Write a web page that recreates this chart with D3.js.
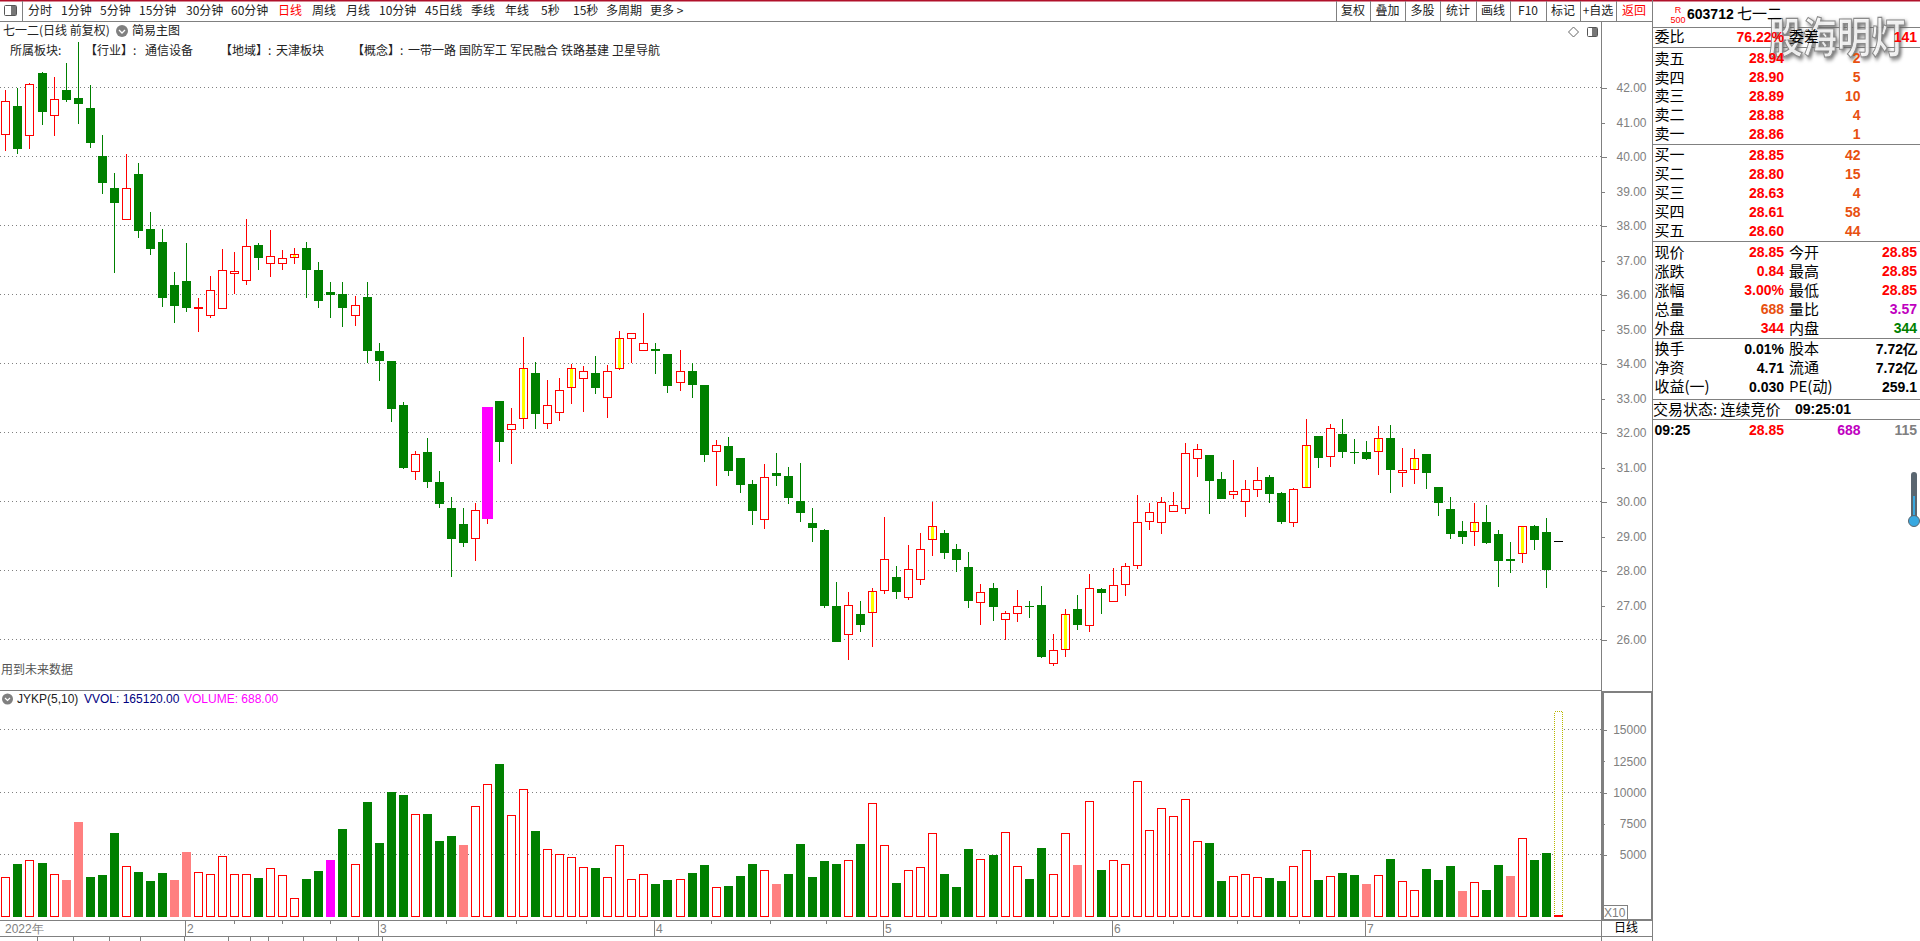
<!DOCTYPE html>
<html>
<head>
<meta charset="utf-8">
<script src="https://cdn.jsdelivr.net/npm/d3@7"></script>
<style>
    html, body { margin: 0; padding: 0; background: #fff; overflow: hidden; }
    text { font-family: "Noto Sans CJK SC", sans-serif; }
    .num { font-family: "Liberation Sans", sans-serif; }
    .bold { font-family: "Liberation Sans", sans-serif; font-weight: bold; font-size: 14px; }
</style>
</head>
<body>
<div id="chart"></div>
<script>
// daily candles, one value per trading day, last one is today's call auction
const opens = [40.61,41.46,40.58,42.42,41.16,41.92,41.69,41.40,40.01,39.08,38.16,39.49,37.89,37.52,36.27,36.39,35.58,35.38,35.58,36.60,36.40,37.43,36.89,36.89,37.06,37.34,36.71,36.07,36.01,35.38,
    35.92,34.36,34.07,32.79,30.86,31.43,30.56,29.81,29.34,28.92,29.49,32.91,32.08,32.39,33.72,32.25,32.57,33.29,33.56,33.72,33.00,33.85,34.72,34.37,34.42,34.27,33.44,33.78,33.37,31.44,
    31.60,31.26,30.50,29.47,30.82,30.73,30.01,29.37,29.17,26.97,26.14,26.73,26.77,27.41,27.81,27.21,27.73,28.89,29.08,28.62,28.10,27.06,27.49,26.57,26.74,26.97,27.00,25.29,25.70,26.88,
    26.40,27.46,27.09,27.58,28.14,29.41,29.38,29.70,29.79,31.24,31.34,30.65,30.19,29.99,30.34,30.71,30.24,29.38,30.40,31.89,31.29,31.95,31.43,31.43,31.44,31.84,30.83,30.92,31.37,30.42,
    29.78,29.14,29.12,29.40,29.05,28.33,28.48,29.29,29.11,28.85];
const closes = [41.62,40.22,42.09,41.29,41.68,41.63,41.52,40.39,39.23,38.65,39.10,37.84,37.31,35.89,35.66,35.60,35.65,36.12,36.70,36.67,37.42,37.05,37.13,37.07,37.17,36.71,35.81,35.98,35.60,35.71,
    34.36,34.07,32.68,30.96,31.39,30.56,29.92,28.91,28.79,29.74,32.73,31.72,32.26,33.88,32.53,32.81,33.22,33.88,33.77,33.29,33.77,34.75,34.87,34.58,34.36,33.34,33.77,33.37,31.34,31.65,
    30.88,30.47,29.72,30.72,30.73,30.10,29.66,29.23,26.97,25.92,27.01,26.42,27.42,28.32,27.37,28.03,28.61,29.28,28.50,28.30,27.11,27.39,26.94,26.78,26.96,26.94,25.49,25.71,26.75,26.42,
    27.48,27.34,27.59,28.14,29.42,29.71,30.00,29.91,31.42,31.51,30.59,30.07,30.29,30.35,30.61,30.21,29.40,30.35,31.65,31.26,32.12,31.43,31.40,31.23,31.83,30.91,30.90,31.25,30.82,29.95,
    29.05,28.97,29.42,28.79,28.27,28.27,29.28,28.88,28.01,28.85];
const highs = [41.92,42.00,42.14,42.44,42.29,42.70,43.31,42.07,40.62,39.52,40.07,39.81,38.39,37.89,36.65,37.49,35.89,36.53,37.31,37.23,38.18,37.49,37.86,37.29,37.34,37.52,36.94,36.36,36.36,35.95,
    36.35,34.59,34.07,32.88,31.46,31.84,30.88,30.13,29.81,29.95,32.73,32.91,32.71,34.76,34.04,33.52,33.58,33.98,33.92,34.21,33.95,34.94,34.87,35.46,34.59,34.27,34.39,34.01,33.37,31.78,
    31.86,31.26,30.62,31.08,31.40,31.00,31.11,29.81,29.20,27.66,27.37,27.11,27.49,29.55,28.13,28.73,29.08,29.98,29.17,28.76,28.53,27.60,27.63,26.82,27.43,27.11,27.55,26.15,26.88,27.29,
    27.89,27.49,28.07,28.21,30.18,29.95,30.13,30.27,31.69,31.66,31.34,30.85,31.20,30.62,31.00,30.76,30.27,30.39,32.39,31.89,32.24,32.39,31.81,31.75,32.18,32.21,31.55,31.52,31.37,30.42,
    30.13,29.43,29.95,29.89,29.17,28.82,29.28,29.31,29.52,28.85];
const lows = [40.15,40.07,40.21,40.91,40.59,41.58,40.94,40.24,38.91,36.62,38.16,37.63,37.14,35.63,35.17,35.49,34.91,35.31,35.58,36.01,36.27,36.71,36.50,36.71,36.88,35.89,35.60,35.31,35.05,35.08,
    34.01,33.49,32.30,30.93,30.62,30.39,29.81,27.81,28.68,28.27,29.34,31.14,31.08,32.10,32.10,32.10,32.33,32.82,32.59,33.11,32.42,33.81,34.01,34.37,33.69,33.14,33.20,33.00,31.14,30.44,
    30.73,30.24,29.31,29.20,30.44,29.92,29.40,28.82,26.91,25.92,25.40,26.21,25.78,27.31,27.17,27.14,27.57,28.42,28.33,27.95,26.91,26.42,26.53,25.98,26.50,26.62,25.46,25.23,25.49,26.27,
    26.21,26.73,27.09,27.26,28.04,29.17,29.05,29.70,29.63,30.71,29.63,30.07,30.07,29.55,30.13,29.95,29.34,29.26,30.40,30.97,31.00,31.26,31.08,31.20,30.76,30.24,30.42,30.50,30.36,29.57,
    28.91,28.76,28.71,28.76,27.52,27.92,28.21,28.59,27.49,28.85];

// volume per day, on the X10 axis, so today's 688.00 reads as 69
const volumes = [3238,4224,4597,4304,3477,2944,7584,3184,3344,6704,4117,3584,2864,3504,2944,5184,3637,3477,4917,3477,3477,3104,3957,3397,1557,3024,3664,4544,7024,4277,
    9184,5904,9984,9744,8277,8224,6064,6464,5744,8917,10677,12224,8197,10277,6864,5477,5077,4837,4037,3904,3238,5797,3004,3477,2624,2944,3077,3504,4144,2437,
    2464,3264,4224,3797,2624,3424,5824,3184,4464,4224,4597,5824,9157,5797,2704,3797,4037,6757,3424,2384,5424,4677,4944,6837,4117,3024,5504,3477,6757,4144,
    9317,3744,4597,4277,10917,6997,8757,8117,9477,6117,5904,2864,3317,3477,3238,3104,2864,4117,5397,2944,3317,3504,3344,2624,3397,4624,2917,2197,3824,2944,
    4064,2064,2837,2144,4144,3264,6357,4544,5104,69];
const vvolToday = 16512;

const yellowDays = [24,43,47,51,72,77,88,108,114,117,122,126];
const magentaDay = 40;
const pinkVolumeDays = [5,6,14,15,38,64,89,113,121,125];
const magentaVolumeDay = 27;

const priceTicks = d3.range(26, 43);
const volumeTicks = [5000, 7500, 10000, 12500, 15000];
const volumeGrid = [5000, 10000, 15000];

// date strip, positions given in trading day numbers
const monthMarks = [[0, "2022年"], [15, "2"], [31, "3"], [54, "4"], [73, "5"], [92, "6"], [113, "7"]];
const weekMarks = [19, 23, 27, 36.6, 42.4, 48.2, 58.6, 63.5, 68.2, 77.7, 82.3, 87, 97, 102.3, 107.5];
const bottomTabEdges = [37, 73, 109, 140, 184, 228, 250, 268, 303, 336, 358, 382];

const tabsLeft = [["分时", 28], ["1分钟", 61], ["5分钟", 100], ["15分钟", 139], ["30分钟", 186], ["60分钟", 231], ["日线", 278], ["周线", 312],
    ["月线", 346], ["10分钟", 379], ["45日线", 425], ["季线", 471], ["年线", 505], ["5秒", 541], ["15秒", 573], ["多周期", 606], ["更多 >", 650]];
const tabsRight = ["复权", "叠加", "多股", "统计", "画线", "F10", "标记", "+自选", "返回"];
const tabEdges = [1336, 1370, 1405, 1440, 1476, 1510, 1546, 1580, 1616, 1652];
const sectorTexts = [["所属板块:", 10], ["【行业】:", 85], ["通信设备", 145], ["【地域】:", 220], ["天津板块", 276], ["【概念】:", 352],
    ["一带一路", 408], ["国防军工", 459], ["军民融合", 510], ["铁路基建", 561], ["卫星导航", 612]];

const askLabels = ["卖五", "卖四", "卖三", "卖二", "卖一"];
const askPrices = ["28.94", "28.90", "28.89", "28.88", "28.86"];
const askSizes = ["2", "5", "10", "4", "1"];
const bidLabels = ["买一", "买二", "买三", "买四", "买五"];
const bidPrices = ["28.85", "28.80", "28.63", "28.61", "28.60"];
const bidSizes = ["42", "15", "4", "58", "44"];

const RED = "#ff0000", GREEN = "#008000", PINK = "#ff8080", MAGENTA = "#ff00ff", YELLOW = "#ffff00", GRAY = "#808080", ORANGE = "#e85010", PURPLE = "#c000c0";
const CJK = 15;

const svg = d3.select("#chart").append("svg")
    .attr("width", 1920)
    .attr("height", 941)
    .style("display", "block");

const x = d3.scaleLinear().domain([0, 129]).range([5.4, 1558.3]);
const yPrice = d3.scaleLinear().domain([26, 42]).range([639.5, 87.5]);
const yVolume = d3.scaleLinear().domain([0, 15000]).range([917, 729.5]);
const snap = v => Math.floor(v) + 0.5;

function hline(g, x1, x2, y, color, dash) {
    g.append("line").attr("x1", x1).attr("x2", x2).attr("y1", y).attr("y2", y)
        .attr("stroke", color).attr("stroke-dasharray", dash || null).attr("shape-rendering", "crispEdges");
}
function vline(g, x0, y1, y2, color) {
    g.append("line").attr("x1", x0).attr("x2", x0).attr("y1", y1).attr("y2", y2)
        .attr("stroke", color).attr("shape-rendering", "crispEdges");
}
function label(g, str, xp, yp, size, color, anchor, cls) {
    return g.append("text").attr("x", xp).attr("y", yp).attr("dy", "0.35em")
        .attr("font-size", size).attr("fill", color).attr("text-anchor", anchor || "start")
        .attr("class", cls || null).text(str);
}

// ---- grid
const grid = svg.append("g");
priceTicks.filter(d => d % 2 === 0).forEach(d => hline(grid, 0, 1601, snap(yPrice(d)), GRAY, "1,3"));
volumeGrid.forEach(d => hline(grid, 0, 1601, snap(yVolume(d)), GRAY, "1,3"));

// ---- candles
const candles = svg.append("g").attr("shape-rendering", "crispEdges");
opens.forEach((open, i) => {
    const close = closes[i];
    const cx = Math.round(x(i));
    const top = Math.round(yPrice(Math.max(open, close)));
    const bottom = Math.round(yPrice(Math.min(open, close)));
    const yHigh = Math.round(yPrice(highs[i]));
    const yLow = Math.round(yPrice(lows[i]));

    if (i === opens.length - 1) {
        // today only has the one auction price
        candles.append("rect").attr("x", cx - 4).attr("y", top).attr("width", 9).attr("height", 1).attr("fill", "#000");
        return;
    }
    if (i === magentaDay) {
        candles.append("rect").attr("x", cx - 5).attr("y", top).attr("width", 11).attr("height", bottom - top).attr("fill", MAGENTA);
        candles.append("rect").attr("x", cx).attr("y", bottom).attr("width", 1).attr("height", yLow - bottom).attr("fill", RED);
        return;
    }
    const up = close > open;
    const color = up ? RED : GREEN;
    candles.append("rect").attr("x", cx).attr("y", yHigh).attr("width", 1).attr("height", yLow - yHigh).attr("fill", color);
    if (up) {
        candles.append("rect").attr("x", cx - 3.5).attr("y", top + 0.5).attr("width", 8).attr("height", Math.max(bottom - top - 1, 1))
            .attr("fill", "#fff").attr("stroke", RED);
        if (yellowDays.includes(i)) {
            candles.append("rect").attr("x", cx - 1).attr("y", top + 1).attr("width", 3).attr("height", Math.max(bottom - top - 2, 1)).attr("fill", YELLOW);
        }
    } else {
        candles.append("rect").attr("x", cx - 4).attr("y", top).attr("width", 9).attr("height", Math.max(bottom - top, 1)).attr("fill", GREEN);
    }
});

// ---- volume bars
const bars = svg.append("g").attr("shape-rendering", "crispEdges");
// the dotted bar is the projected volume for today
const lastX = Math.round(x(129));
bars.append("rect").attr("x", lastX - 3.5).attr("y", Math.round(yVolume(vvolToday)) + 0.5)
    .attr("width", 8).attr("height", yVolume(0) - Math.round(yVolume(vvolToday)) - 1)
    .attr("fill", "#fff").attr("stroke", "#b8b800").attr("stroke-dasharray", "1,1");
volumes.forEach((v, i) => {
    const cx = Math.round(x(i));
    const top = Math.round(yVolume(v));
    const bottom = yVolume(0);
    const up = closes[i] > opens[i];
    if (i === 129) {
        bars.append("rect").attr("x", cx - 4).attr("y", top - 1).attr("width", 9).attr("height", bottom - top + 1).attr("fill", RED);
    } else if (i === magentaVolumeDay) {
        bars.append("rect").attr("x", cx - 4).attr("y", top).attr("width", 9).attr("height", bottom - top).attr("fill", MAGENTA);
    } else if (pinkVolumeDays.includes(i)) {
        bars.append("rect").attr("x", cx - 4).attr("y", top).attr("width", 9).attr("height", bottom - top).attr("fill", PINK);
    } else if (up) {
        bars.append("rect").attr("x", cx - 3.5).attr("y", top + 0.5).attr("width", 8).attr("height", bottom - top - 1)
            .attr("fill", "#fff").attr("stroke", RED);
    } else {
        bars.append("rect").attr("x", cx - 4).attr("y", top).attr("width", 9).attr("height", bottom - top).attr("fill", GREEN);
    }
});

// ---- frame and axes
const frame = svg.append("g");
frame.append("rect").attr("x", 0).attr("y", 0).attr("width", 1920).attr("height", 1.5).attr("fill", "#b0102a");
hline(frame, 0, 1653, 21.5, GRAY);
hline(frame, 0, 1602, 690.5, GRAY);
hline(frame, 0, 1653, 920.5, GRAY);
hline(frame, 0, 1653, 936.5, GRAY);
vline(frame, 1601.5, 21, 941, GRAY);
vline(frame, 1652.5, 0, 941, GRAY);
frame.append("rect").attr("x", 1602.5).attr("y", 691.5).attr("width", 49.5).attr("height", 228.5)
    .attr("fill", "none").attr("stroke", GRAY).attr("stroke-width", 2).attr("shape-rendering", "crispEdges");
vline(frame, 1627.5, 906, 920, GRAY);
hline(frame, 1602, 1628, 905.5, GRAY);
label(frame, "X10", 1604, 913, 12, GRAY, "start", "num");
label(frame, "日线", 1626, 928, 12, "#000", "middle");
bottomTabEdges.forEach(px => vline(frame, px + 0.5, 937, 941, GRAY));

function styleAxis(g, minorTest) {
    g.select(".domain").remove();
    g.selectAll(".tick line").attr("stroke", GRAY).attr("shape-rendering", "crispEdges")
        .attr("x2", d => minorTest(d) ? 3 : 5);
    g.selectAll(".tick text").attr("class", "num").attr("fill", GRAY).attr("font-size", 12)
        .attr("text-anchor", "end").attr("x", 44.5);
}
const priceAxis = d3.axisRight(yPrice).tickValues(priceTicks).tickFormat(d3.format(".2f"));
svg.append("g").attr("transform", "translate(1602,0.5)").call(priceAxis).call(g => styleAxis(g, d => d % 2 === 1));
const volumeAxis = d3.axisRight(yVolume).tickValues(volumeTicks).tickFormat(d3.format("d"));
svg.append("g").attr("transform", "translate(1602,0.5)").call(volumeAxis).call(g => styleAxis(g, d => d % 5000 !== 0));

// date strip
const dates = svg.append("g");
monthMarks.forEach(([day, name], i) => {
    const px = Math.round(x(day));
    if (i > 0) vline(dates, px - 0.5, 921, 936, GRAY);
    label(dates, name, i === 0 ? 5 : px + 1, 929, 12, GRAY, "start", "num");
});
weekMarks.forEach(day => vline(dates, Math.round(x(day)) + 0.5, 921, 924, GRAY));

// ---- toolbar
const bar = svg.append("g");
bar.append("rect").attr("x", 4.5).attr("y", 5.5).attr("width", 12).attr("height", 10).attr("rx", 1)
    .attr("fill", "#fff").attr("stroke", "#555");
bar.append("rect").attr("x", 11).attr("y", 6).attr("width", 5).attr("height", 9).attr("fill", "#777");
vline(bar, 22.5, 1, 21, GRAY);
tabsLeft.forEach(([name, px]) => label(bar, name, px, 11, 12, name === "日线" ? RED : "#222"));
vline(bar, 1336.5, 1, 21, GRAY);
tabsRight.forEach((name, i) => {
    vline(bar, tabEdges[i + 1] + 0.5, 1, 21, GRAY);
    label(bar, name, (tabEdges[i] + tabEdges[i + 1]) / 2, 11, 12, name === "返回" ? RED : "#222", "middle");
});

// ---- captions on the chart
const info = svg.append("g");
label(info, "七一二(日线 前复权)", 3, 31, 12, "#222");
info.append("circle").attr("cx", 122).attr("cy", 31).attr("r", 6).attr("fill", GRAY);
info.append("path").attr("d", "M119,30 L122,33 L125,30").attr("fill", "none").attr("stroke", "#fff").attr("stroke-width", 1.3);
label(info, "简易主图", 132, 31, 12, "#222");
sectorTexts.forEach(([str, px]) => label(info, str, px, 51, 12, "#222"));
label(info, "用到未来数据", 1, 670, 12, "#555");
info.append("path").attr("d", "M1573.5,27 L1578.5,32 L1573.5,37 L1568.5,32 Z").attr("fill", "#fff").attr("stroke", "#666");
info.append("rect").attr("x", 1587.5).attr("y", 27.5).attr("width", 10).attr("height", 9).attr("rx", 1).attr("fill", "#fff").attr("stroke", "#555");
info.append("rect").attr("x", 1592).attr("y", 28).attr("width", 5).attr("height", 8).attr("fill", "#777");

info.append("circle").attr("cx", 7.5).attr("cy", 699).attr("r", 5.5).attr("fill", GRAY);
info.append("path").attr("d", "M5,698 L7.5,700.5 L10,698").attr("fill", "none").attr("stroke", "#fff").attr("stroke-width", 1.2);
label(info, "JYKP(5,10)", 17, 699, 12, "#222", "start", "num");
label(info, "VVOL: 165120.00", 84, 699, 12, "#000080", "start", "num");
label(info, "VOLUME: 688.00", 184, 699, 12, MAGENTA, "start", "num");

// ---- quote panel, watermark goes underneath the quote text
[27.5, 47.5, 144.5, 241.5, 338.5, 399.5, 419.5].forEach(y => hline(svg, 1653, 1920, y, GRAY));

svg.append("text").attr("transform", "translate(1837,38.5) scale(0.9,1.1)").attr("dy", "0.35em").attr("text-anchor", "middle")
    .attr("font-size", 38).attr("font-weight", "bold").attr("fill", "#fff").attr("fill-opacity", 0.85).attr("stroke", "#8a8a8a").attr("stroke-width", 1)
    .style("filter", "drop-shadow(2px 2px 2px #666)")
    .text("股海明灯");

const panel = svg.append("g");
label(panel, "R", 1678, 10, 9, RED, "middle", "num");
label(panel, "500", 1678, 20, 9, RED, "middle", "num");
label(panel, "603712", 1687, 14, 14, "#000", "start", "bold");
label(panel, "七一二", 1737, 14, CJK, "#000");

const L1 = 1654.5, V1 = 1784, L2 = 1789, V2 = 1917, Q = 1860.5;
label(panel, "委比", L1, 37, CJK, "#000");
label(panel, "76.22%", V1, 37, 14, RED, "end", "bold");
label(panel, "委差", L2, 37, CJK, "#000");
label(panel, "141", V2, 37, 14, RED, "end", "bold");

const askY = [58.5, 77.5, 96, 115, 134];
askLabels.forEach((name, i) => {
    label(panel, name, L1, askY[i], CJK, "#000");
    label(panel, askPrices[i], V1, askY[i], 14, RED, "end", "bold");
    label(panel, askSizes[i], Q, askY[i], 14, ORANGE, "end", "bold");
});
const bidY = [155, 174, 193, 212, 231];
bidLabels.forEach((name, i) => {
    label(panel, name, L1, bidY[i], CJK, "#000");
    label(panel, bidPrices[i], V1, bidY[i], 14, RED, "end", "bold");
    label(panel, bidSizes[i], Q, bidY[i], 14, ORANGE, "end", "bold");
});

const statY = [252.5, 271.5, 290.5, 309.5, 328.5];
const statLeft = [["现价", "28.85", RED], ["涨跌", "0.84", RED], ["涨幅", "3.00%", RED], ["总量", "688", ORANGE], ["外盘", "344", RED]];
const statRight = [["今开", "28.85", RED], ["最高", "28.85", RED], ["最低", "28.85", RED], ["量比", "3.57", PURPLE], ["内盘", "344", GREEN]];
statY.forEach((y, i) => {
    label(panel, statLeft[i][0], L1, y, CJK, "#000");
    label(panel, statLeft[i][1], V1, y, 14, statLeft[i][2], "end", "bold");
    label(panel, statRight[i][0], L2, y, CJK, "#000");
    label(panel, statRight[i][1], V2, y, 14, statRight[i][2], "end", "bold");
});

const baseY = [349, 368, 387];
const baseLeft = [["换手", "0.01%"], ["净资", "4.71"], ["收益(一)", "0.030"]];
const baseRight = [["股本", "7.72亿"], ["流通", "7.72亿"], ["PE(动)", "259.1"]];
baseY.forEach((y, i) => {
    label(panel, baseLeft[i][0], L1, y, CJK, "#000");
    label(panel, baseLeft[i][1], V1, y, 14, "#000", "end", "bold");
    label(panel, baseRight[i][0], L2, y, CJK, "#000");
    label(panel, baseRight[i][1], V2, y, 14, "#000", "end", "bold");
});

label(panel, "交易状态: 连续竞价", 1653, 409.5, CJK, "#000");
label(panel, "09:25:01", 1795, 409.5, 14, "#000", "start", "bold");
label(panel, "09:25", L1, 430, 14, "#000", "start", "bold");
label(panel, "28.85", V1, 430, 14, RED, "end", "bold");
label(panel, "688", Q, 430, 14, PURPLE, "end", "bold");
label(panel, "115", V2, 430, 14, GRAY, "end", "bold");

// thermometer on the right edge
panel.append("rect").attr("x", 1911).attr("y", 472).attr("width", 6).attr("height", 50).attr("rx", 3).attr("fill", "#5a6670");
panel.append("rect").attr("x", 1913).attr("y", 496).attr("width", 2).attr("height", 22).attr("fill", "#38a8e0");
panel.append("circle").attr("cx", 1914).attr("cy", 521).attr("r", 5.5).attr("fill", "#38a8e0").attr("stroke", "#5a6670");
</script>
</body>
</html>
